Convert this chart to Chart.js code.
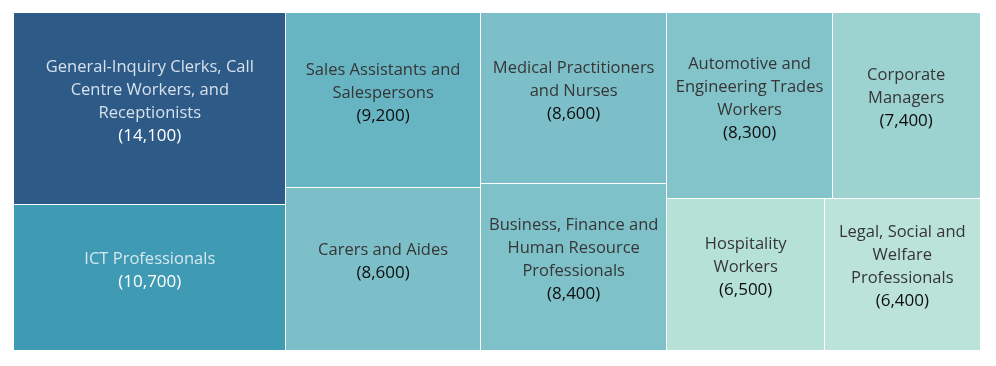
<!DOCTYPE html>
<html><head><meta charset="utf-8">
<script src="https://cdn.jsdelivr.net/npm/chart.js@4/dist/chart.umd.min.js"></script>
<style>html,body{margin:0;padding:0;background:#fff}</style>
</head><body>
<canvas id="c" width="996" height="366"></canvas>
<script>
const categories = [
  "General-Inquiry Clerks, Call Centre Workers, and Receptionists",
  "ICT Professionals",
  "Sales Assistants and Salespersons",
  "Carers and Aides",
  "Medical Practitioners and Nurses",
  "Business, Finance and Human Resource Professionals",
  "Automotive and Engineering Trades Workers",
  "Corporate Managers",
  "Hospitality Workers",
  "Legal, Social and Welfare Professionals"
];
const jobs = [14100, 10700, 9200, 8600, 8600, 8400, 8300, 7400, 6500, 6400];

const cellColors = ["#2e5a87","#3f9bb4","#67b4c3","#7cbfc9","#7cbfc8","#7fc1c9","#83c3ca","#9cd2cf","#b6e1d7","#bbe3d9"];
const darkCells = [true, true, false, false, false, false, false, false, false, false];

function sumV(arr){ return arr.reduce((s,it)=>s+it.v,0); }
function worst(row, side, apu){
  const thick = sumV(row)*apu/side;
  let m = 0;
  row.forEach(it=>{ const len = it.v*apu/thick; m = Math.max(m, thick/len, len/thick); });
  return m;
}
function squarify(vals, PW, PH){
  let items = vals.map((v,i)=>({i, v}));
  let r = {x:0, y:0, w:1, h:1};
  const out = [];
  while(items.length){
    const total = sumV(items);
    const wPx = r.w*PW, hPx = r.h*PH;
    const apu = wPx*hPx/total;
    const vertical = wPx >= hPx;
    const side = vertical ? hPx : wPx;
    let row = [items[0]], k = 1, best = worst(row, side, apu);
    while(k < items.length){
      const cand = row.concat([items[k]]);
      const w2 = worst(cand, side, apu);
      if (w2 <= best){ row = cand; best = w2; k++; } else break;
    }
    const rs = sumV(row), frac = rs/total;
    if (vertical){
      const cw = r.w*frac; let yy = r.y;
      row.forEach(it=>{ const hh = r.h*it.v/rs; out[it.i] = {x:r.x, y:yy, w:cw, h:hh}; yy += hh; });
      r = {x:r.x+cw, y:r.y, w:r.w-cw, h:r.h};
    } else {
      const rh = r.h*frac; let xx = r.x;
      row.forEach(it=>{ const ww = r.w*it.v/rs; out[it.i] = {x:xx, y:r.y, w:ww, h:rh}; xx += ww; });
      r = {x:r.x, y:r.y+rh, w:r.w, h:r.h-rh};
    }
    items = items.slice(k);
  }
  return out;
}
function wrap(ctx, text, maxW){
  const words = text.split(' ');
  const lines = []; let cur = '';
  words.forEach(w=>{
    const t = cur ? cur + ' ' + w : w;
    if (ctx.measureText(t).width > maxW && cur){ lines.push(cur); cur = w; } else cur = t;
  });
  if (cur) lines.push(cur);
  return lines;
}
const fmt = new Intl.NumberFormat('en-US');
const FONT = '"Open Sans", "DejaVu Sans", sans-serif';

const treemapPlugin = {
  id: 'treemapCells',
  beforeDatasetsDraw(chart){
    const ctx = chart.ctx, xs = chart.scales.x, ys = chart.scales.y;
    const area = chart.chartArea;
    const ds = chart.data.datasets[0];
    const vals = ds.data;
    const PW = Math.abs(xs.getPixelForValue(1) - xs.getPixelForValue(0));
    const PH = Math.abs(ys.getPixelForValue(1) - ys.getPixelForValue(0));
    const rects = squarify(vals, PW, PH);
    const snap = v => Math.floor(v + 0.05);
    ctx.save();
    const px = rects.map(d=>{
      const x0 = xs.getPixelForValue(d.x), x1 = xs.getPixelForValue(d.x + d.w);
      const y0 = ys.getPixelForValue(d.y), y1 = ys.getPixelForValue(d.y + d.h);
      return {x0, x1, y0, y1, L: snap(x0), R: snap(x1), T: snap(y0), B: snap(y1)};
    });
    px.forEach((p, i)=>{
      ctx.fillStyle = ds.backgroundColor[i];
      ctx.fillRect(p.L, p.T, p.R-p.L, p.B-p.T);
    });
    ctx.fillStyle = '#ffffff';
    px.forEach(p=>{
      if (p.L > snap(area.left)) ctx.fillRect(p.L, p.T, 1, p.B-p.T);
      if (p.T > snap(area.top)) ctx.fillRect(p.L, p.T, p.R-p.L, 1);
    });
    px.forEach((p, i)=>{
      const cx = (p.x0 + p.x1)/2, cy = (p.y0 + p.y1)/2;
      ctx.font = '16.5px ' + FONT;
      const lines = wrap(ctx, chart.data.labels[i], Math.abs(p.x1 - p.x0) - 14);
      const lh = 23, n = lines.length + 1;
      const top = cy - 7 - n*lh/2;
      ctx.textAlign = 'center'; ctx.textBaseline = 'middle';
      const dark = darkCells[i];
      ctx.fillStyle = dark ? 'rgba(232,239,246,0.9)' : '#363636';
      lines.forEach((ln, j)=> ctx.fillText(ln, cx, top + lh*j + lh/2));
      ctx.font = '17px ' + FONT;
      ctx.fillStyle = dark ? '#ffffff' : '#0d0d0d';
      ctx.fillText('(' + fmt.format(vals[i]) + ')', cx, top + lh*lines.length + lh/2);
    });
    ctx.restore();
  }
};

new Chart(document.getElementById('c'), {
  type: 'scatter',
  data: {
    labels: categories,
    datasets: [{ label: 'Jobs', data: jobs, backgroundColor: cellColors, pointRadius: 0, showLine: false }]
  },
  options: {
    responsive: false,
    animation: false,
    devicePixelRatio: 1,
    events: [],
    layout: { padding: { left: 14, right: 16, top: 13, bottom: 16 } },
    plugins: { legend: { display: false }, tooltip: { enabled: false } },
    scales: {
      x: { type: 'linear', min: 0, max: 1, display: false },
      y: { type: 'linear', min: 0, max: 1, reverse: true, display: false }
    }
  },
  plugins: [treemapPlugin]
});
</script>
</body></html>
